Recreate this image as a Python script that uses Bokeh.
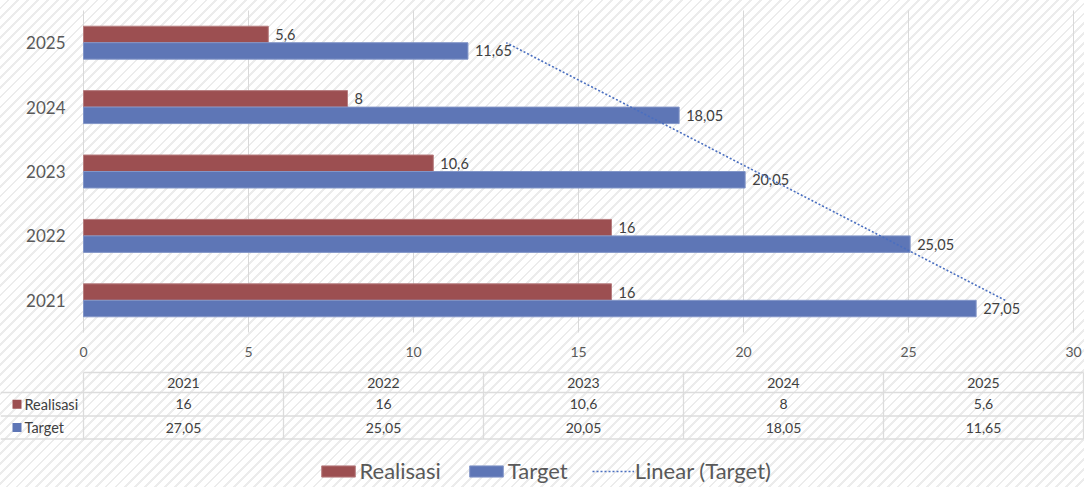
import numpy as np
from bokeh.plotting import figure
from bokeh.models import (ColumnDataSource, Range1d, FixedTicker,
                          Legend, LegendItem, LabelSet, BoxAnnotation)
from bokeh.transform import dodge
from bokeh.core.properties import value
from bokeh.embed import file_html
from bokeh.resources import INLINE

# ---------------- data ----------------
years = ["2021", "2022", "2023", "2024", "2025"]
realisasi = [16, 16, 10.6, 8, 5.6]
target = [27.05, 25.05, 20.05, 18.05, 11.65]
x_ticks = [0, 5, 10, 15, 20, 25, 30]
series_names = ["Realisasi", "Target"]
trend_name = "Linear (Target)"

# ---------------- styles ----------------
RED = "#9C4F51"
BLUE = "#5E76B6"
RED_EDGE = "#B77E80"
BLUE_EDGE = "#8396C8"
TREND = "#4A6FC0"
FONT = value("Lato")
GRID = "#D9D9D9"
TBL = "#DCDCDC"
TXT = "#404040"
AX = "#595959"


def fmt(v):
    return f"{v:g}".replace(".", ",")


W, H = 1084, 487
# chart area on the canvas (pixels)
FL, FR, FT, FB = 83.0, 1073.0, 10.0, 332.0
ncat = len(years)
band = (FB - FT) / ncat
xs_per_px = 30.0 / (FR - FL)
x_start = -FL * xs_per_px
x_end = 30.0 + (W - FR) * xs_per_px
# category index 0 (first year) sits at the bottom band
c_top = ncat - 0.5 + FT / band
c_bot = -0.5 - (H - FB) / band

pos = list(range(ncat))
src = ColumnDataSource(dict(
    pos=pos, year=years, realisasi=realisasi, target=target,
    rl=[fmt(v) for v in realisasi], tl=[fmt(v) for v in target],
))

p = figure(width=W, height=H, x_range=Range1d(x_start, x_end),
           y_range=Range1d(c_bot, c_top), output_backend="svg",
           toolbar_location=None, min_border=0)
p.background_fill_color = None
p.border_fill_color = None
p.outline_line_color = None
p.styles = {"background-image": "repeating-linear-gradient(135deg, #ffffff 0px, "
                                "#ffffff 5px, #ececec 5px, #ececec 7px)"}

# vertical grid lines limited to the chart area
p.segment(x0=x_ticks, x1=x_ticks, y0=-0.5, y1=ncat - 0.5,
          line_color=GRID, line_width=1)

OFF = 0.128
BH = 0.256
r_real = p.hbar(y=dodge("pos", OFF), left=0, right="realisasi",
                height=BH, fill_color=RED, line_color=RED_EDGE, line_width=1,
                source=src)
r_targ = p.hbar(y=dodge("pos", -OFF), left=0, right="target",
                height=BH, fill_color=BLUE, line_color=BLUE_EDGE, line_width=1,
                source=src)

p.text(x="realisasi", y=dodge("pos", OFF), text="rl",
       x_offset=7, text_baseline="middle", text_align="left",
       text_font=FONT, text_font_size="14.5px", text_color=TXT, source=src)
p.text(x="target", y=dodge("pos", -OFF), text="tl",
       x_offset=7, text_baseline="middle", text_align="left",
       text_font=FONT, text_font_size="14.5px", text_color=TXT, source=src)

# linear trendline of Target over category positions
idx = np.arange(ncat)
slope, intercept = np.polyfit(idx, np.array(target, dtype=float), 1)
trend = slope * idx + intercept
r_trend = p.line(x=list(trend), y=pos, line_color=TREND, line_width=1.6,
                 line_dash="2 2")

# axes fixed at the chart-area edges
p.xaxis.fixed_location = -0.5
p.xaxis.ticker = FixedTicker(ticks=x_ticks)
p.xaxis.axis_line_color = None
p.xaxis.major_tick_line_color = None
p.xaxis.minor_tick_line_color = None
p.xaxis.major_label_text_font = "Lato"
p.xaxis.major_label_text_font_size = "14px"
p.xaxis.major_label_text_color = AX
p.xaxis.major_label_standoff = 8

p.yaxis.fixed_location = 0
p.yaxis.ticker = FixedTicker(ticks=pos)
p.yaxis.major_label_overrides = {i: y for i, y in zip(pos, years)}
p.yaxis.axis_line_color = None
p.yaxis.major_tick_line_color = None
p.yaxis.minor_tick_line_color = None
p.yaxis.major_label_text_font = "Lato"
p.yaxis.major_label_text_font_size = "17px"
p.yaxis.major_label_text_color = AX
p.yaxis.major_label_standoff = 12

p.xgrid.visible = False
p.ygrid.visible = False


# ---------------- data table ----------------
def sx(X):
    return X


def sy(Y):
    return H - Y


def box(x0, x1, y0, y1, color):
    p.add_layout(BoxAnnotation(left=sx(x0), right=sx(x1), top=sy(y0), bottom=sy(y1),
                               left_units="screen", right_units="screen",
                               top_units="screen", bottom_units="screen",
                               fill_color=color, fill_alpha=1, line_alpha=0))


cw = 200
tx0 = FL
y_top, y_h, y_r, y_t = 372.0, 392.0, 415.5, 438.5
lw = 1.3
for X0, Y in ((tx0, y_top), (0, y_h), (0, y_r), (0, y_t)):
    box(X0, tx0 + cw * ncat, Y - lw / 2, Y + lw / 2, TBL)
for i in range(ncat + 1):
    X = tx0 + cw * i
    box(X - lw / 2, X + lw / 2, y_top, y_t, TBL)

cx = [sx(tx0 + cw * (i + 0.5)) for i in range(ncat)]
rows = [(years, (y_top + y_h) / 2),
        ([fmt(v) for v in realisasi], (y_h + y_r) / 2),
        ([fmt(v) for v in target], (y_r + y_t) / 2)]
for texts, Y in rows:
    ls = ColumnDataSource(dict(x=cx, y=[sy(Y)] * ncat, text=texts))
    p.add_layout(LabelSet(x="x", y="y", text="text", source=ls,
                          x_units="screen", y_units="screen",
                          text_align="center", text_baseline="middle",
                          text_font=FONT, text_font_size="14px",
                          text_color=TXT))

row_y = [(y_h + y_r) / 2, (y_r + y_t) / 2]
for Y, c in zip(row_y, (RED, BLUE)):
    box(12, 21, Y - 4.5, Y + 4.5, c)
ns = ColumnDataSource(dict(x=[sx(24)] * 2, y=[sy(Y) for Y in row_y],
                           text=series_names))
p.add_layout(LabelSet(x="x", y="y", text="text", source=ns,
                      x_units="screen", y_units="screen",
                      text_align="left", text_baseline="middle",
                      text_font=FONT, text_font_size="14.5px", text_color=TXT))

# ---------------- legend ----------------
legend = Legend(items=[LegendItem(label=series_names[0], renderers=[r_real]),
                       LegendItem(label=series_names[1], renderers=[r_targ]),
                       LegendItem(label=trend_name, renderers=[r_trend])],
                orientation="horizontal", location=(316.5, 3),
                border_line_color=None, background_fill_alpha=0,
                padding=0, margin=0, spacing=24, glyph_width=42,
                glyph_height=14, label_standoff=1, label_height=14,
                label_text_font="Lato", label_text_font_size="22px",
                label_text_color=AX)
p.add_layout(legend)

open("out.html", "w").write(file_html(p, INLINE))
